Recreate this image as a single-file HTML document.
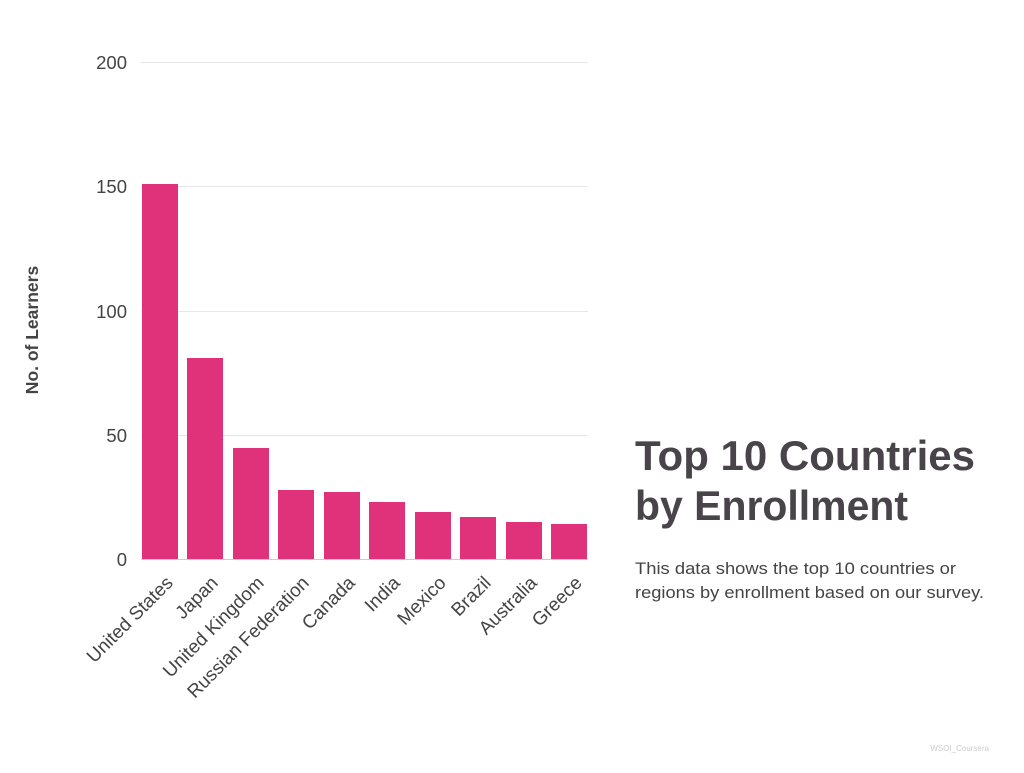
<!DOCTYPE html>
<html><head><meta charset="utf-8"><style>
body{margin:0;background:#fff;width:1024px;height:768px;overflow:hidden;font-family:"Liberation Sans",sans-serif}
</style></head><body>
<svg width="1024" height="768" xmlns="http://www.w3.org/2000/svg" font-family="Liberation Sans, sans-serif">
<g stroke="#e6e6e6" stroke-width="1">
<line x1="141" x2="588" y1="62.5" y2="62.5"/>
<line x1="141" x2="588" y1="186.5" y2="186.5"/>
<line x1="141" x2="588" y1="311.5" y2="311.5"/>
<line x1="141" x2="588" y1="435.5" y2="435.5"/>
</g>
<g fill="#444" font-size="18.5" text-anchor="end">
<text x="127" y="69">200</text>
<text x="127" y="193">150</text>
<text x="127" y="318">100</text>
<text x="127" y="442">50</text>
<text x="127" y="566">0</text>
</g>
<text transform="translate(38,330) rotate(-90)" text-anchor="middle" font-size="17.5" font-weight="bold" fill="#444">No. of Learners</text>
<g fill="#e0327a">
<rect x="142" y="184" width="36" height="375"/>
<rect x="187" y="358" width="36" height="201"/>
<rect x="233" y="448" width="36" height="111"/>
<rect x="278" y="490" width="36" height="69"/>
<rect x="324" y="492" width="36" height="67"/>
<rect x="369" y="502" width="36" height="57"/>
<rect x="415" y="512" width="36" height="47"/>
<rect x="460" y="517" width="36" height="42"/>
<rect x="506" y="522" width="36" height="37"/>
<rect x="551" y="524" width="36" height="35"/>
</g>
<line x1="141" x2="588" y1="559.5" y2="559.5" stroke="#ccc"/>
<g fill="#444" font-size="18.8" text-anchor="end">
<text transform="translate(174,584) rotate(-45)">United States</text>
<text transform="translate(219,584) rotate(-45)">Japan</text>
<text transform="translate(265,584) rotate(-45)">United Kingdom</text>
<text transform="translate(310,584) rotate(-45)">Russian Federation</text>
<text transform="translate(356,584) rotate(-45)">Canada</text>
<text transform="translate(401,584) rotate(-45)">India</text>
<text transform="translate(447,584) rotate(-45)">Mexico</text>
<text transform="translate(492,584) rotate(-45)">Brazil</text>
<text transform="translate(538,584) rotate(-45)">Australia</text>
<text transform="translate(583,584) rotate(-45)">Greece</text>
</g>
<g fill="#48444a" font-size="42" font-weight="bold">
<text x="635" y="470" textLength="340" lengthAdjust="spacingAndGlyphs">Top 10 Countries</text>
<text x="635" y="520" textLength="273" lengthAdjust="spacingAndGlyphs">by Enrollment</text>
</g>
<g fill="#444" font-size="17">
<text x="635" y="574" textLength="321" lengthAdjust="spacingAndGlyphs">This data shows the top 10 countries or</text>
<text x="635" y="598" textLength="349" lengthAdjust="spacingAndGlyphs">regions by enrollment based on our survey.</text>
</g>
<text x="989" y="751" text-anchor="end" font-size="8" fill="#ccc">WSOI_Coursera</text>
</svg>
</body></html>
